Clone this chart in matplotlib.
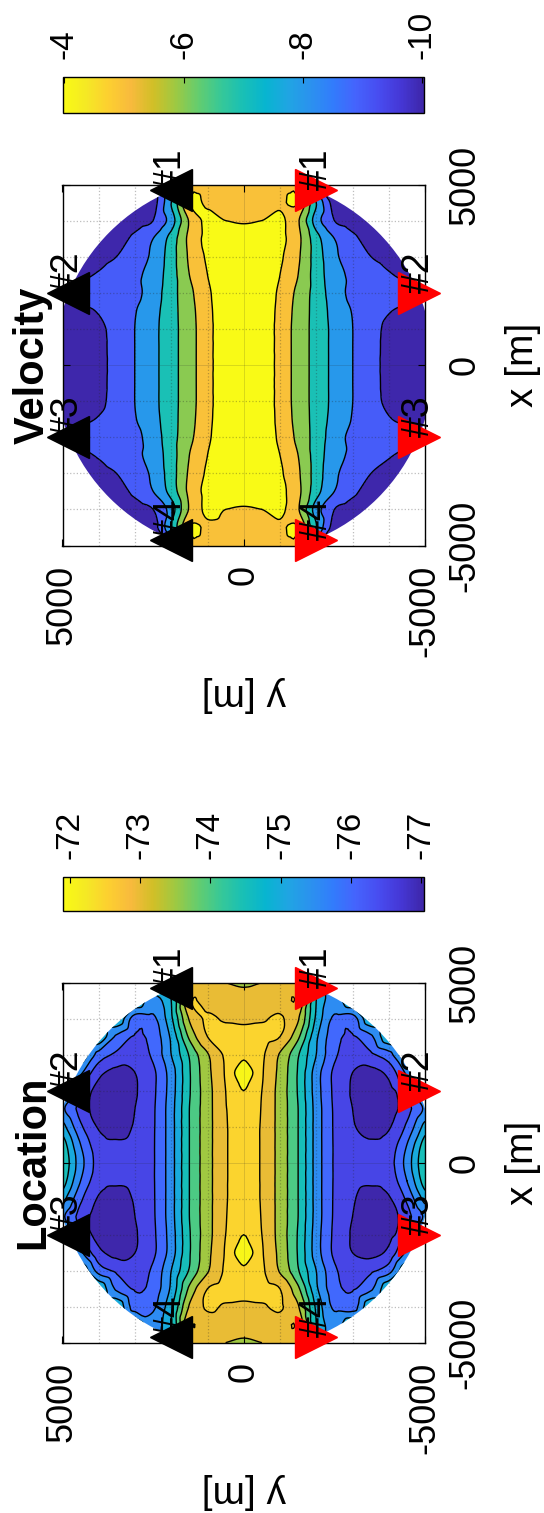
import numpy as np
import matplotlib
matplotlib.use("Agg")
import matplotlib.pyplot as plt
import matplotlib.tri as mtri
from matplotlib.colors import LinearSegmentedColormap, Normalize
from matplotlib.cm import ScalarMappable
from matplotlib.patches import Circle
from matplotlib.ticker import MultipleLocator

plt.rcParams['font.family'] = ['Liberation Sans', 'DejaVu Sans']
plt.rcParams['axes.unicode_minus'] = False

# ---- data ------------------------------------------------------------------
# quadrant grid nodes [m]; both maps are mirror-symmetric in x and in y
grid_m = [0, 500, 1000, 1500, 2000, 2500, 3000, 3500, 4000, 4500, 5000]
disk_r = 5220

# velocity map, rows = x (0..5000), cols = y (0..5000)
vel_q = np.array([
    [-3.00, -3.30, -4.35, -5.39, -6.38, -7.27, -7.99, -8.64, -9.28, -9.60, -9.85],
    [-3.00, -3.30, -4.35, -5.39, -6.38, -7.27, -7.99, -8.64, -9.26, -9.58, -9.82],
    [-3.00, -3.30, -4.35, -5.39, -6.38, -7.27, -7.99, -8.64, -9.20, -9.50, -9.70],
    [-3.00, -3.30, -4.30, -5.35, -6.38, -7.35, -8.05, -8.60, -8.95, -9.15, -9.35],
    [-3.00, -3.30, -4.20, -5.25, -6.40, -7.50, -8.25, -8.55, -8.70, -8.85, -8.95],
    [-3.00, -3.30, -4.00, -5.00, -6.45, -7.60, -8.20, -8.55, -8.93, -9.15, -9.40],
    [-3.10, -3.30, -3.86, -4.85, -6.46, -7.79, -8.45, -8.99, -9.30, -9.50, -9.60],
    [-3.55, -3.55, -3.75, -4.75, -6.60, -8.00, -8.80, -9.30, -9.50, -9.60, -9.70],
    [-4.08, -4.00, -3.80, -4.90, -7.50, -9.00, -9.40, -9.55, -9.60, -9.70, -9.70],
    [-4.35, -4.30, -4.15, -4.05, -7.00, -9.40, -9.70, -9.70, -9.70, -9.70, -9.70],
    [-4.60, -4.55, -4.45, -4.40, -8.50, -9.60, -9.70, -9.70, -9.70, -9.70, -9.70],
])

# location map, same layout
loc_q = np.array([
    [-72.30, -72.55, -73.20, -74.00, -75.20, -76.05, -76.35, -76.40, -76.20, -75.30, -74.00],
    [-72.30, -72.55, -73.20, -74.00, -75.20, -76.05, -76.38, -76.45, -76.30, -75.50, -74.20],
    [-72.25, -72.55, -73.20, -74.00, -75.20, -76.06, -76.45, -76.65, -76.55, -75.90, -74.80],
    [-72.20, -72.53, -73.20, -74.00, -75.20, -76.07, -76.50, -76.80, -76.70, -76.20, -75.40],
    [-72.00, -72.50, -73.20, -74.05, -75.25, -76.10, -76.55, -76.85, -76.65, -76.10, -74.80],
    [-71.70, -72.45, -73.15, -74.05, -75.25, -76.10, -76.50, -76.65, -76.35, -75.40, -74.60],
    [-72.10, -72.42, -73.05, -73.95, -75.00, -75.90, -76.25, -76.10, -75.70, -74.60, -74.60],
    [-72.30, -72.35, -72.50, -73.40, -74.90, -75.80, -76.05, -75.60, -74.60, -74.60, -74.60],
    [-72.60, -72.55, -72.45, -72.95, -74.60, -75.60, -75.75, -74.60, -74.60, -74.60, -74.60],
    [-72.85, -72.80, -72.70, -72.60, -74.50, -75.20, -74.60, -74.60, -74.60, -74.60, -74.60],
    [-73.05, -73.00, -72.95, -72.90, -74.60, -74.60, -74.60, -74.60, -74.60, -74.60, -74.60],
])

vel_levels = [-11, -10, -9, -8, -7, -6, -5, -4, -2]
loc_levels = [-78, -77, -76.5, -76, -75.5, -75, -74.5, -74, -73.5, -73, -72.5, -72, -71]
vel_clim = (-10.03, -3.97)
loc_clim = (-77.04, -71.90)
vel_cticks = [-4, -6, -8, -10]
loc_cticks = [-72, -73, -74, -75, -76, -77]

# sensors: black on the y > 0 side, red on the y < 0 side
sensor_names = ['#1', '#2', '#3', '#4']
sensor_x = [4840, 2005, -2005, -4840]
sensor_y_black = [2005, 4840, 4840, 2005]
sensor_y_red = [-2005, -4840, -4840, -2005]

# MATLAB parula
PARULA = LinearSegmentedColormap.from_list('parula', [
    (0.2422, 0.1504, 0.6603), (0.2706, 0.2147, 0.8364), (0.2813, 0.3006, 0.9414),
    (0.2699, 0.3892, 0.9906), (0.1963, 0.4847, 0.9892), (0.1687, 0.5703, 0.9359),
    (0.1248, 0.6459, 0.8883), (0.0297, 0.7082, 0.8163), (0.0964, 0.7500, 0.7120),
    (0.2161, 0.7843, 0.5923), (0.3909, 0.8029, 0.4354), (0.6174, 0.7876, 0.2612),
    (0.8203, 0.7498, 0.1535), (0.9728, 0.7298, 0.2394), (0.9892, 0.8136, 0.1885),
    (0.9597, 0.9135, 0.1423), (0.9769, 0.9839, 0.0805)])

W, H = 544, 1513
TICK_FS, LABEL_FS, TITLE_FS, NAME_FS, CB_FS = 26, 28, 30, 27, 24


def fpos(x0, y0, x1, y1):
    return [x0 / W, 1 - y1 / H, (x1 - x0) / W, (y1 - y0) / H]


def mirror(q):
    z = np.vstack([q[:0:-1], q])
    return np.hstack([z[:, :0:-1], z])


def panel(fig, ax_px, cb_px, field_q, levels, clim, cticks, title):
    # figure is shown turned 90 deg: horizontal = data y (reversed), vertical = data x
    ax = fig.add_axes(fpos(*ax_px))
    cax = fig.add_axes(fpos(*cb_px))
    g = np.array(grid_m, float)
    full = np.concatenate([-g[:0:-1], g])
    Yg, Xg = np.meshgrid(full, full)
    z = mirror(field_q).ravel()
    tri = mtri.Triangulation(Yg.ravel(), Xg.ravel())
    interp = mtri.CubicTriInterpolator(tri, z, kind='geom')
    tri_f, z_f = mtri.UniformTriRefiner(tri).refine_field(z, interp, subdiv=3)
    norm = Normalize(*clim)
    cols = [PARULA(norm(l)) for l in levels[:-1]]
    cf = ax.tricontourf(tri_f, z_f, levels=levels, colors=cols, zorder=1)
    cl = ax.tricontour(tri_f, z_f, levels=levels[1:-1], colors='k', linewidths=1.0,
                       linestyles='solid', zorder=2)
    disk = Circle((0, 0), disk_r, transform=ax.transData)
    cf.set_clip_path(disk)
    cl.set_clip_path(disk)

    ax.plot(sensor_y_black, sensor_x, '<', color='k', ms=30, clip_on=False, zorder=4)
    ax.plot(sensor_y_red, sensor_x, '>', color=(1, 0, 0), ms=30, clip_on=False, zorder=4)
    for nm, xs, yb, yr in zip(sensor_names, sensor_x, sensor_y_black, sensor_y_red):
        for yy in (yb, yr):
            ax.text(yy, xs, nm, rotation=90, ha='center', va='bottom', fontsize=NAME_FS,
                    clip_on=False, zorder=5)

    ax.set_xlim(5000, -5000)
    ax.set_ylim(-5000, 5000)
    ax.set_xticks([5000, 0, -5000])
    ax.set_xticklabels(['5000', '0', '-5000'])
    ax.set_yticks([-5000, 0, 5000])
    ax.set_yticklabels(['-5000', '0', '5000'])
    ax.xaxis.set_minor_locator(MultipleLocator(1000))
    ax.yaxis.set_minor_locator(MultipleLocator(1000))
    ax.tick_params(which='major', direction='in', length=5, width=0.8, labelsize=TICK_FS,
                   top=True, bottom=True, left=True, right=True,
                   labelleft=False, labelright=True)
    ax.tick_params(axis='x', which='major', pad=14)
    ax.tick_params(axis='y', which='major', pad=16)
    ax.tick_params(which='minor', length=0)
    for t in ax.get_xticklabels():
        t.set_rotation(90)
    for t in ax.get_yticklabels():
        t.set_rotation(90)
        t.set_va('center')
    ax.grid(which='major', color='0.15', alpha=0.18, lw=0.6, ls='-')
    ax.grid(which='minor', color='0.15', alpha=0.3, lw=0.9, ls=':')
    ax.set_axisbelow(False)
    for s in ax.spines.values():
        s.set_linewidth(1.0)

    x0, y0, x1, y1 = ax_px
    yc = (y0 + y1) / 2
    fig.text(53 / W, 1 - yc / H, title, rotation=90, ha='right', va='center',
             fontsize=TITLE_FS, fontweight='bold')
    fig.text(505 / W, 1 - yc / H, 'x [m]', rotation=90, ha='left', va='center',
             fontsize=LABEL_FS)
    fig.text((x0 + x1) / 2 / W, 1 - (y1 + 148) / H, 'y [m]', rotation=180,
             ha='center', va='center', fontsize=LABEL_FS)

    cb = fig.colorbar(ScalarMappable(norm=norm, cmap=PARULA), cax=cax, orientation='horizontal')
    cax.invert_xaxis()
    cb.set_ticks(cticks)
    cb.set_ticklabels([str(c) for c in cticks])
    cax.xaxis.set_ticks_position('top')
    cax.tick_params(direction='in', length=4, width=0.8, labelsize=CB_FS, pad=13)
    for t in cax.get_xticklabels():
        t.set_rotation(90)
    cb.outline.set_linewidth(1.0)


fig = plt.figure(figsize=(W / 100, H / 100), dpi=100)
panel(fig, (62.5, 184.5, 425, 545.5), (62.5, 77, 424, 113), vel_q, vel_levels,
      vel_clim, vel_cticks, 'Velocity')
panel(fig, (62.5, 982.7, 425, 1342.7), (62.5, 877, 424, 911), loc_q, loc_levels,
      loc_clim, loc_cticks, 'Location')
fig.savefig('out.png', dpi=100)
